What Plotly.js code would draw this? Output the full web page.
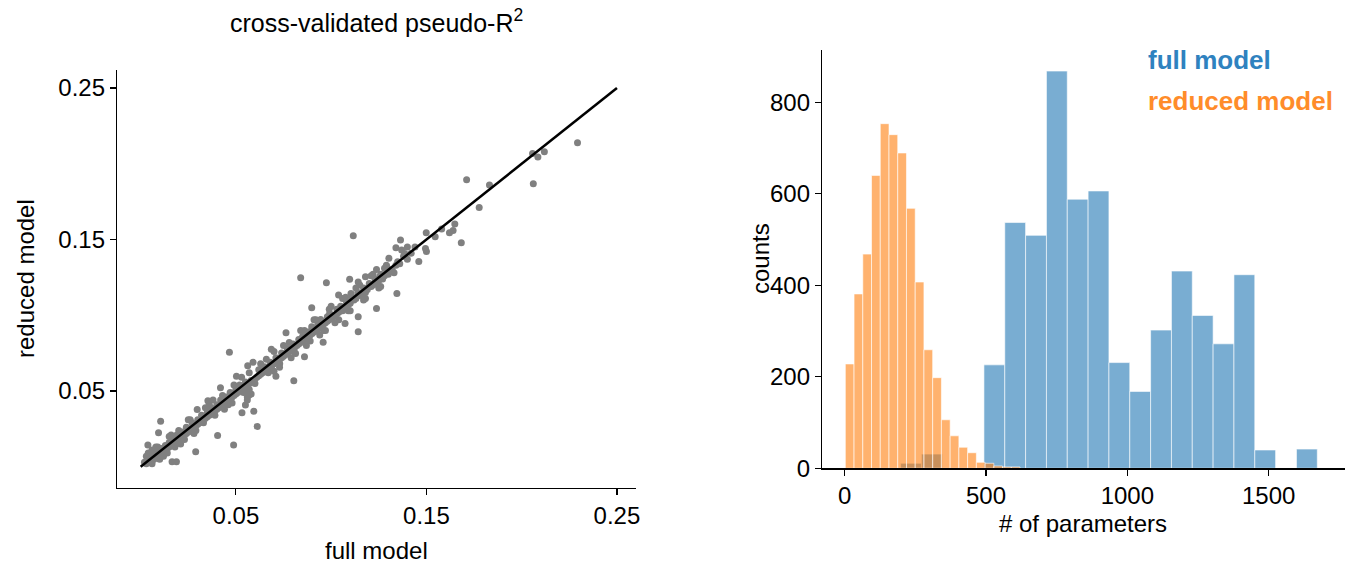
<!DOCTYPE html>
<html>
<head>
<meta charset="utf-8">
<script src="https://cdn.plot.ly/plotly-3.0.1.min.js"></script>
<style>html,body{margin:0;padding:0;background:#fff;}#chart{width:1350px;height:575px;}</style>
</head>
<body>
<div id="chart"></div>
<script>
// ---- scatter data: cross-validated pseudo-R2 (full model vs reduced model) ----
const fullR2 = [
  0.002,0.003,0.004,0.005,0.005,0.006,0.007,0.007,0.008,0.009,0.009,0.010,0.011,0.011,0.012,0.013,0.013,0.014,0.015,0.015,
  0.016,0.017,0.017,0.018,0.019,0.019,0.020,0.021,0.022,0.022,0.023,0.024,0.024,0.025,0.026,0.027,0.027,0.028,0.029,0.030,0.030,
  0.004,0.006,0.008,0.010,0.012,0.014,0.016,0.021,0.025,0.028,
  0.031,0.032,0.032,0.033,0.034,0.035,0.035,0.036,0.037,0.037,0.038,0.039,0.040,0.040,0.041,0.042,0.042,0.043,0.044,0.045,
  0.045,0.046,0.047,0.047,0.048,0.049,0.050,0.050,0.051,0.052,0.052,0.053,0.054,0.055,0.055,0.056,0.057,0.058,0.059,0.060,
  0.034,0.038,0.044,0.048,0.053,0.057,0.058,0.056,
  0.061,0.062,0.062,0.063,0.064,0.065,0.065,0.066,0.067,0.068,0.068,0.069,0.070,0.071,0.071,0.072,0.073,0.074,0.074,0.075,
  0.076,0.077,0.077,0.078,0.079,0.080,0.080,0.081,0.082,0.083,0.083,0.084,0.085,0.085,0.086,0.087,0.088,0.088,0.089,0.090,
  0.090,0.091,0.092,0.093,0.093,0.094,0.095,0.095,0.096,0.097,0.098,0.098,0.099,0.100,
  0.066,0.070,0.075,0.079,0.084,0.087,0.092,0.094,0.097,0.099,
  0.101,0.102,0.103,0.103,0.104,0.105,0.106,0.107,0.108,0.108,0.109,0.110,0.111,0.112,0.113,0.114,0.115,0.116,0.117,0.118,
  0.119,0.120,0.121,0.122,0.123,0.124,0.125,0.126,0.127,0.128,0.129,0.130,0.132,0.134,0.136,0.138,0.140,0.142,
  0.104,0.110,0.115,0.118,0.122,0.126,
  0.2293,0.2057,0.2085,0.2119,0.2061,0.1711,0.1831,0.1777,0.1649,0.1621,0.1640,0.1683,0.1580,0.1546,0.1499,0.1495,0.1500,0.1460,
  0.1440,0.1400,0.1364,0.1340,0.1116,0.1386,0.1345,0.1303,0.1280,0.1238,0.1238,0.1180,0.1142,0.1097,0.0975,0.0840,0.0898,0.1142,
  0.1142,0.1073,0.1039,0.1076,0.0958,0.0763,0.0686,0.0466,0.0804,0.0710,0.0562,0.0590,0.0503,0.0419,0.0532,0.0594,0.0612,0.0404,
  0.0488,0.0289,0.0165,0.0188,0.0105,0.0094,0.0038,0.0297,0.0353,0.0569,0.0560,0.0550,0.0556,0.0729,0.0813,0.0860,0.0841,0.0898,
  0.0945,0.0992,0.1048,0.1104,0.1198,0.1255,0.1292,0.1349,
  0.003,0.006,0.009,0.012,0.015,0.018,0.020,0.023,0.026,0.029,0.033,0.036,0.039,0.043,0.046,0.049,0.054,0.057,0.060,0.063,
  0.067,0.070,0.073,0.078,0.081,0.086,0.089,0.091,0.096,0.100,0.102,0.106,0.109,0.113,0.117,0.121,0.125,0.129,0.133,0.137
];
const reducedR2 = [
  0.003,0.002,0.005,0.003,0.006,0.004,0.008,0.005,0.007,0.006,0.010,0.008,0.012,0.009,0.010,0.014,0.011,0.012,0.016,0.013,
  0.015,0.014,0.019,0.016,0.017,0.021,0.018,0.020,0.019,0.023,0.021,0.022,0.026,0.023,0.025,0.024,0.029,0.026,0.027,0.031,0.028,
  0.009,0.011,0.013,0.005,0.007,0.009,0.021,0.015,0.031,0.022,
  0.029,0.030,0.034,0.031,0.032,0.036,0.033,0.034,0.035,0.039,0.036,0.037,0.041,0.038,0.039,0.040,0.044,0.041,0.042,0.046,
  0.043,0.044,0.045,0.049,0.046,0.047,0.051,0.048,0.049,0.050,0.054,0.051,0.052,0.056,0.050,0.053,0.055,0.057,0.056,0.058,
  0.039,0.044,0.038,0.042,0.059,0.051,0.048,0.046,
  0.059,0.060,0.064,0.061,0.062,0.066,0.063,0.064,0.065,0.069,0.066,0.067,0.068,0.072,0.069,0.070,0.071,0.075,0.072,0.073,
  0.074,0.078,0.075,0.076,0.077,0.081,0.078,0.079,0.080,0.084,0.081,0.082,0.086,0.083,0.084,0.085,0.089,0.086,0.087,0.091,
  0.088,0.089,0.090,0.094,0.091,0.092,0.096,0.093,0.094,0.095,0.099,0.096,0.097,0.098,
  0.071,0.063,0.080,0.072,0.090,0.080,0.097,0.087,0.090,0.104,
  0.099,0.100,0.104,0.101,0.102,0.106,0.103,0.105,0.109,0.106,0.107,0.108,0.112,0.110,0.111,0.115,0.113,0.114,0.118,0.115,
  0.117,0.121,0.119,0.120,0.124,0.121,0.123,0.127,0.124,0.126,0.130,0.127,0.130,0.133,0.134,0.139,0.137,0.141,
  0.097,0.103,0.120,0.111,0.127,0.119,
  0.2139,0.2068,0.2044,0.2079,0.1868,0.1894,0.1859,0.1712,0.1602,0.1545,0.1560,0.1478,0.1570,0.1518,0.1545,0.1441,0.1420,0.1355,
  0.1450,0.1450,0.1496,0.1445,0.1525,0.1408,0.1144,0.1377,0.1310,0.1302,0.1045,0.1254,0.1220,0.1238,0.1214,0.1247,0.1050,0.0990,
  0.0891,0.0946,0.1133,0.1118,0.0821,0.0885,0.0775,0.0755,0.0568,0.0598,0.0667,0.0689,0.0598,0.0521,0.0356,0.0367,0.0266,0.0207,
  0.0143,0.0099,0.0033,0.0033,0.0301,0.0224,0.0143,0.0378,0.0436,0.0473,0.0440,0.0407,0.0540,0.0656,0.0748,0.0726,0.0836,0.0924,
  0.0972,0.1012,0.1045,0.1144,0.1188,0.1254,0.1320,0.1353,
  0.007,0.002,0.013,0.008,0.020,0.013,0.024,0.018,0.031,0.024,0.029,0.041,0.034,0.047,0.041,0.054,0.049,0.062,0.055,0.068,
  0.062,0.076,0.068,0.082,0.075,0.090,0.083,0.097,0.090,0.106,0.095,0.111,0.103,0.118,0.110,0.126,0.118,0.133,0.128,0.143
];
const identityX = [0, 0.25];
const identityY = [0, 0.25];
const scatterTicks = [0.05, 0.15, 0.25];
const scatterTickLabels = ['0.05', '0.15', '0.25'];

// ---- histogram data: number of parameters ----
const fullBinStart = 198;
const fullBinWidth = 73.7;
const fullCounts = [11, 31, 0, 0, 226, 537, 509, 868, 588, 606, 231, 168, 302, 431, 334, 272, 423, 40, 0, 42];
const reducedBinStart = 2.5;
const reducedBinWidth = 30.9;
const reducedCounts = [228, 381, 468, 640, 753, 729, 689, 568, 407, 259, 198, 106, 71, 46, 34, 13, 11, 5, 3, 3];
const histXTicks = [0, 500, 1000, 1500];
const histYTicks = [0, 200, 400, 600, 800];

const fullCenters = fullCounts.map((_, i) => fullBinStart + fullBinWidth * (i + 0.5));
const reducedCenters = reducedCounts.map((_, i) => reducedBinStart + reducedBinWidth * (i + 0.5));

const FONT = 'Liberation Sans, Arial, Helvetica, sans-serif';
const W = 1350, H = 575;

const traces = [
  {
    type: 'scatter', mode: 'markers', x: fullR2, y: reducedR2,
    marker: {color: 'rgb(128,128,128)', size: 7, line: {width: 0}},
    xaxis: 'x', yaxis: 'y', hoverinfo: 'skip'
  },
  {
    type: 'scatter', mode: 'lines', x: identityX, y: identityY,
    line: {color: '#000', width: 2.5},
    xaxis: 'x', yaxis: 'y', hoverinfo: 'skip'
  },
  {
    type: 'bar', x: fullCenters, y: fullCounts, width: fullBinWidth,
    marker: {color: 'rgba(31,119,180,0.6)', line: {color: 'rgba(255,255,255,0.6)', width: 1}},
    xaxis: 'x2', yaxis: 'y2', hoverinfo: 'skip'
  },
  {
    type: 'bar', x: reducedCenters, y: reducedCounts, width: reducedBinWidth,
    marker: {color: 'rgba(255,127,14,0.6)', line: {color: 'rgba(255,255,255,0.6)', width: 1}},
    xaxis: 'x2', yaxis: 'y2', hoverinfo: 'skip'
  }
];

const axisCommon = {
  showline: true, linecolor: '#000', linewidth: 1.2, mirror: false,
  ticks: 'outside', ticklen: 6, tickwidth: 1.2, tickcolor: '#000',
  showgrid: false, zeroline: false,
  tickfont: {family: FONT, size: 24, color: '#000'},
  fixedrange: true
};

const layout = {
  width: W, height: H,
  margin: {l: 0, r: 0, t: 0, b: 0},
  paper_bgcolor: '#fff', plot_bgcolor: 'rgba(0,0,0,0)',
  showlegend: false,
  barmode: 'overlay', bargap: 0,
  xaxis: Object.assign({}, axisCommon, {
    domain: [117 / W, 636 / W], range: [-0.0124, 0.26],
    tickmode: 'array', tickvals: scatterTicks, ticktext: scatterTickLabels,
    anchor: 'y'
  }),
  yaxis: Object.assign({}, axisCommon, {
    domain: [(H - 488) / H, (H - 70) / H], range: [-0.01403, 0.26188],
    tickmode: 'array', tickvals: scatterTicks, ticktext: scatterTickLabels,
    anchor: 'x'
  }),
  xaxis2: Object.assign({}, axisCommon, {
    domain: [822 / W, 1345 / W], range: [-80, 1770],
    tickmode: 'array', tickvals: histXTicks,
    anchor: 'y2'
  }),
  yaxis2: Object.assign({}, axisCommon, {
    domain: [(H - 468.3) / H, (H - 50) / H], range: [0, 914],
    tickmode: 'array', tickvals: histYTicks,
    anchor: 'x2'
  }),
  annotations: [
    {text: 'cross-validated pseudo-R<sup>2</sup>', xref: 'paper', yref: 'paper',
     x: 376 / W, y: 1 - 21 / H, xanchor: 'center', yanchor: 'middle', showarrow: false,
     font: {family: FONT, size: 25, color: '#000'}},
    {text: 'full model', xref: 'paper', yref: 'paper',
     x: 376 / W, y: 1 - 550 / H, xanchor: 'center', yanchor: 'middle', showarrow: false,
     font: {family: FONT, size: 24, color: '#000'}},
    {text: 'reduced model', xref: 'paper', yref: 'paper', textangle: -90,
     x: 25 / W, y: 1 - 279 / H, xanchor: 'center', yanchor: 'middle', showarrow: false,
     font: {family: FONT, size: 24, color: '#000'}},
    {text: 'counts', xref: 'paper', yref: 'paper', textangle: -90,
     x: 760 / W, y: 1 - 259 / H, xanchor: 'center', yanchor: 'middle', showarrow: false,
     font: {family: FONT, size: 24, color: '#000'}},
    {text: '# of parameters', xref: 'paper', yref: 'paper',
     x: 1083 / W, y: 1 - 523 / H, xanchor: 'center', yanchor: 'middle', showarrow: false,
     font: {family: FONT, size: 24, color: '#000'}},
    {text: '<b>full model</b>', xref: 'paper', yref: 'paper',
     x: 1146 / W, y: 1 - 60 / H, xanchor: 'left', yanchor: 'middle', showarrow: false,
     font: {family: FONT, size: 26, color: '#2f82bf'}},
    {text: '<b>reduced model</b>', xref: 'paper', yref: 'paper',
     x: 1146 / W, y: 1 - 101 / H, xanchor: 'left', yanchor: 'middle', showarrow: false,
     font: {family: FONT, size: 26, color: '#ff8c2a'}}
  ]
};

Plotly.newPlot('chart', traces, layout, {displayModeBar: false, staticPlot: true});
</script>
</body>
</html>
